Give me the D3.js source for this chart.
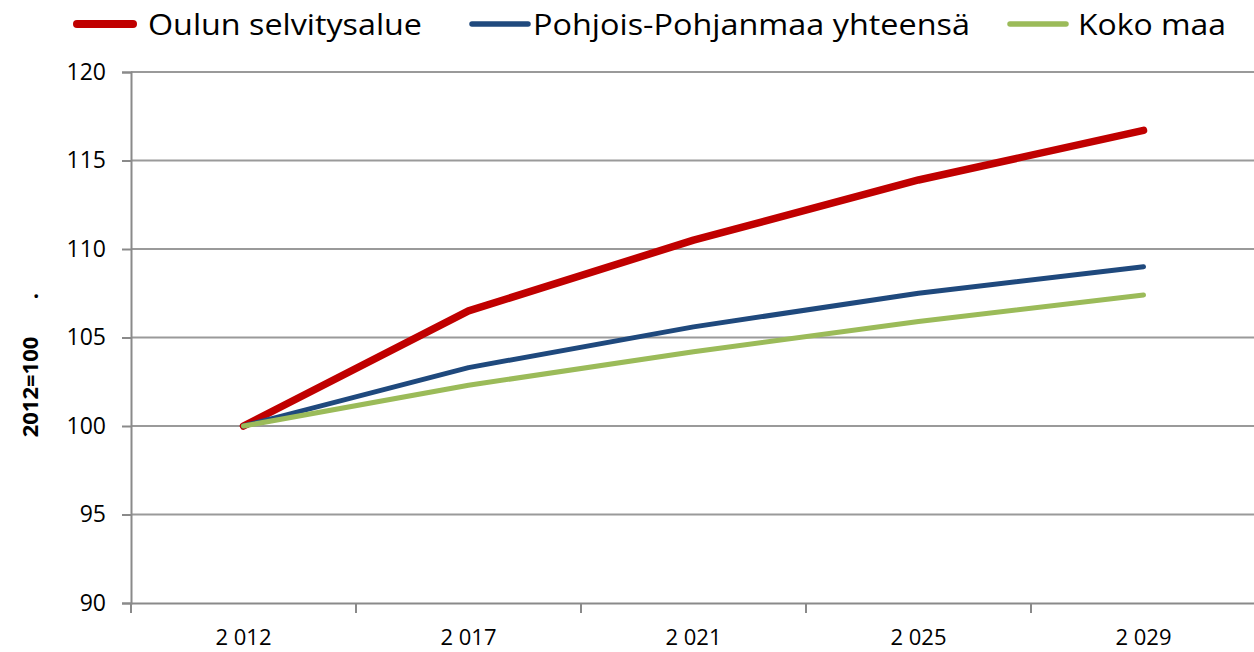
<!DOCTYPE html>
<html>
<head>
<meta charset="utf-8">
<style>
  body { margin: 0; background: #fff; }
  svg { display: block; font-family: "Open Sans", sans-serif; }
</style>
</head>
<body>
<div id="container"></div>
<script src="https://cdn.jsdelivr.net/npm/d3@7"></script>
<script>
// values (index, 2012 = 100)
const years = ["2 012", "2 017", "2 021", "2 025", "2 029"];
const oulu = [100, 106.5, 110.5, 113.9, 116.7];
const pohjois = [100, 103.3, 105.6, 107.5, 109.0];
const kokoMaa = [100, 102.3, 104.2, 105.9, 107.4];
const yTicks = [90, 95, 100, 105, 110, 115, 120];

const series = [
    { name: "Oulun selvitysalue", values: oulu, color: "#c00000", width: 7.5, lx: 77, tx: 148, tw: 274 },
    { name: "Pohjois-Pohjanmaa yhteensä", values: pohjois, color: "#1f497d", width: 5, lx: 472, tx: 533, tw: 437 },
    { name: "Koko maa", values: kokoMaa, color: "#9bbb59", width: 5, lx: 1010, tx: 1078, tw: 148 }
];

const W = 1254, H = 652;
const mLeft = 131, mRight = 1256, mTop = 72, mBottom = 603;

const svg = d3.select("#container")
    .append("svg")
    .attr("width", W)
    .attr("height", H);

const x = d3.scaleBand().domain(years).range([mLeft, mRight]);
const y = d3.scaleLinear().domain([90, 120]).range([mBottom, mTop]);

// horizontal gridlines
svg.append("g")
    .selectAll("line")
    .data(yTicks.filter(d => d > 90))
    .join("line")
    .attr("x1", mLeft)
    .attr("x2", mRight)
    .attr("y1", d => y(d))
    .attr("y2", d => y(d))
    .attr("stroke", "#9a9a9a")
    .attr("stroke-width", 1.8);

// y axis
const yAxis = svg.append("g")
    .attr("transform", `translate(${mLeft},0)`)
    .call(d3.axisLeft(y).tickValues(yTicks).tickSize(9).tickPadding(16));
yAxis.select(".domain").attr("stroke", "#8a8a8a").attr("stroke-width", 2);
yAxis.selectAll(".tick line").attr("stroke", "#8a8a8a").attr("stroke-width", 2);
yAxis.selectAll(".tick text")
    .attr("font-size", 23)
    .attr("font-family", "Open Sans")
    .attr("fill", "#000");

// x axis, ticks between categories
const xAxis = svg.append("g")
    .attr("transform", `translate(0,${mBottom})`)
    .call(d3.axisBottom(x).tickSize(0).tickPadding(26));
xAxis.select(".domain").attr("stroke", "#8a8a8a").attr("stroke-width", 2);
xAxis.selectAll(".tick text")
    .attr("font-size", 22)
    .attr("font-family", "Open Sans")
    .attr("fill", "#000");
xAxis.append("g")
    .selectAll("line")
    .data(years.concat([null]))
    .join("line")
    .attr("x1", (d, i) => mLeft + i * x.step())
    .attr("x2", (d, i) => mLeft + i * x.step())
    .attr("y1", 0)
    .attr("y2", 10)
    .attr("stroke", "#8a8a8a")
    .attr("stroke-width", 2);

// lines
const line = d3.line()
    .x((d, i) => x(years[i]) + x.bandwidth() / 2)
    .y(d => y(d));

svg.append("g")
    .selectAll("path")
    .data(series)
    .join("path")
    .attr("d", d => line(d.values))
    .attr("fill", "none")
    .attr("stroke", d => d.color)
    .attr("stroke-width", d => d.width)
    .attr("stroke-linecap", "round")
    .attr("stroke-linejoin", "round");

// legend
const legend = svg.append("g");
legend.selectAll("line")
    .data(series)
    .join("line")
    .attr("x1", d => d.lx)
    .attr("x2", d => d.lx + 56)
    .attr("y1", 24)
    .attr("y2", 24)
    .attr("stroke", d => d.color)
    .attr("stroke-width", d => d.width + 0.5)
    .attr("stroke-linecap", "round");
legend.selectAll("text")
    .data(series)
    .join("text")
    .attr("x", d => d.tx)
    .attr("y", 35)
    .attr("font-size", 30)
    .attr("textLength", d => d.tw)
    .attr("lengthAdjust", "spacingAndGlyphs")
    .attr("fill", "#000")
    .text(d => d.name);

// y title
svg.append("text")
    .attr("transform", "translate(38,387) rotate(-90)")
    .attr("text-anchor", "middle")
    .attr("font-size", 22)
    .attr("font-weight", "bold")
    .attr("fill", "#000")
    .text("2012=100");
svg.append("text")
    .attr("transform", "translate(38,296) rotate(-90)")
    .attr("text-anchor", "middle")
    .attr("font-size", 22)
    .attr("font-weight", "bold")
    .attr("fill", "#000")
    .text(".");
</script>
</body>
</html>
